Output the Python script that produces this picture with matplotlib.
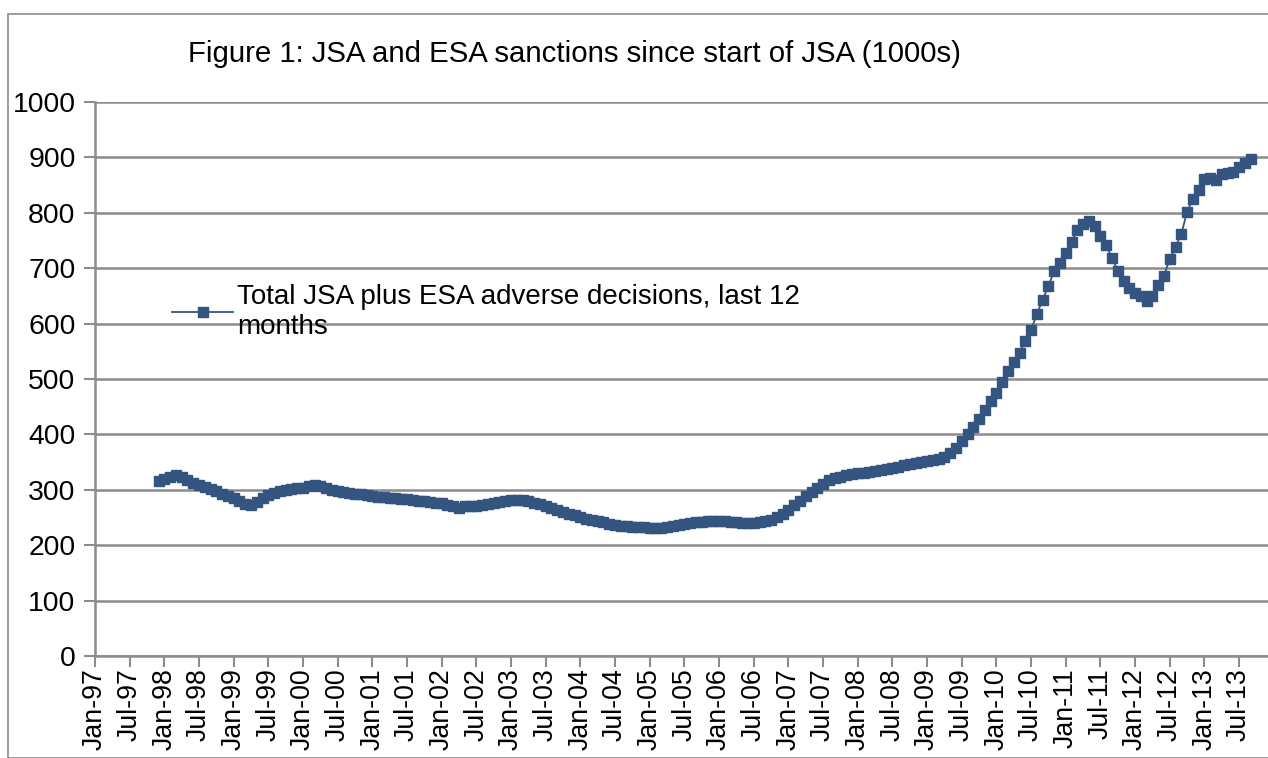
import numpy as np
import matplotlib
matplotlib.use("Agg")
import matplotlib.pyplot as plt
from matplotlib.patches import Rectangle

plt.rcParams['font.family'] = ['Liberation Sans', 'DejaVu Sans']

# Monthly totals (1000s), Dec-97 to Sep-13
start_month = 11  # months after Jan-97
sanctions = [
    316, 320, 324, 327, 323, 318, 313, 309, 305, 301, 297, 293, 289,
    285, 280, 275, 273, 278, 285, 291, 295, 298, 300, 301, 303,
    304, 306, 308, 307, 303, 300, 298, 296, 295, 293, 292, 290,
    288, 287, 287, 286, 285, 284, 283, 282, 280, 279, 278, 277,
    276, 273, 270, 268, 270, 271, 271, 273, 275, 277, 278, 280,
    281, 282, 281, 280, 277, 274, 271, 268, 264, 260, 257, 254,
    251, 248, 246, 244, 241, 239, 237, 235, 234, 233, 232, 232,
    231, 231, 231, 232, 235, 237, 239, 240, 241, 242, 243, 243,
    243, 243, 242, 241, 240, 240, 240, 241, 243, 246, 251, 257,
    264, 272, 280, 288, 296, 304, 311, 317, 321, 324, 327, 329,
    330, 331, 333, 334, 336, 338, 340, 342, 344, 346, 348, 350,
    352, 354, 356, 360, 366, 375, 388, 401, 414, 427, 444, 460,
    475, 494, 515, 530, 547, 569, 589, 617, 643, 668, 695, 709,
    728, 747, 769, 780, 785, 776, 759, 741, 719, 695, 676, 664,
    656, 649, 641, 649, 670, 686, 717, 739, 762, 802, 825, 842,
    861, 863, 859, 870, 872, 874, 882, 890, 898,
]

tick_labels = [
    "Jan-97", "Jul-97", "Jan-98", "Jul-98", "Jan-99", "Jul-99",
    "Jan-00", "Jul-00", "Jan-01", "Jul-01", "Jan-02", "Jul-02",
    "Jan-03", "Jul-03", "Jan-04", "Jul-04", "Jan-05", "Jul-05",
    "Jan-06", "Jul-06", "Jan-07", "Jul-07", "Jan-08", "Jul-08",
    "Jan-09", "Jul-09", "Jan-10", "Jul-10", "Jan-11", "Jul-11",
    "Jan-12", "Jul-12", "Jan-13", "Jul-13",
]
y_ticks = [0, 100, 200, 300, 400, 500, 600, 700, 800, 900, 1000]

title = "Figure 1: JSA and ESA sanctions since start of JSA (1000s)"
series_name = "Total JSA plus ESA adverse decisions, last 12\nmonths"

line_color = "#34557f"
grid_color = "#8c8c8c"

fig = plt.figure(figsize=(12.68, 7.58), dpi=100)
ax = fig.add_axes([95 / 1268, 1 - 656 / 758, (1268 - 95) / 1268, (656 - 102) / 758])

months = np.arange(start_month, start_month + len(sanctions))
ax.plot(months, sanctions, color=line_color, lw=1.3, marker="s",
        markersize=7, markeredgecolor=line_color, label=series_name)

ax.set_xlim(0, 203)
ax.set_ylim(0, 1000)
ax.set_yticks(y_ticks)
ax.set_xticks(np.arange(len(tick_labels)) * 6)
ax.set_xticklabels(tick_labels, rotation=90)

ax.yaxis.grid(True, color=grid_color, lw=1.8)
ax.set_axisbelow(True)
for side in ("top", "right"):
    ax.spines[side].set_visible(False)
for side in ("left", "bottom"):
    ax.spines[side].set_color(grid_color)
    ax.spines[side].set_linewidth(1.8)
ax.tick_params(axis="both", colors=grid_color, length=8, width=1.5,
               labelcolor="black")
ax.tick_params(axis="y", pad=6, labelsize=20.4)
ax.tick_params(axis="x", pad=1, labelsize=19.3)

fig.text(0.453, 0.929, title, fontsize=21.2, ha="center", va="center")

leg = ax.legend(loc="upper left", bbox_to_anchor=(172 / 1268, 1 - 284 / 758),
                bbox_transform=fig.transFigure, frameon=False, fontsize=20,
                handlelength=2.2, handletextpad=0.15, borderaxespad=0,
                borderpad=0, labelspacing=0)
for txt in leg.get_texts():
    txt.set_linespacing(1.2)

# chart frame
fig.patches.append(Rectangle((8 / 1268, 0), 1.2, 1 - 14 / 758,
                             transform=fig.transFigure, fill=False,
                             edgecolor="#8c8c8c", lw=1.2))

fig.savefig("out.png", dpi=100)
